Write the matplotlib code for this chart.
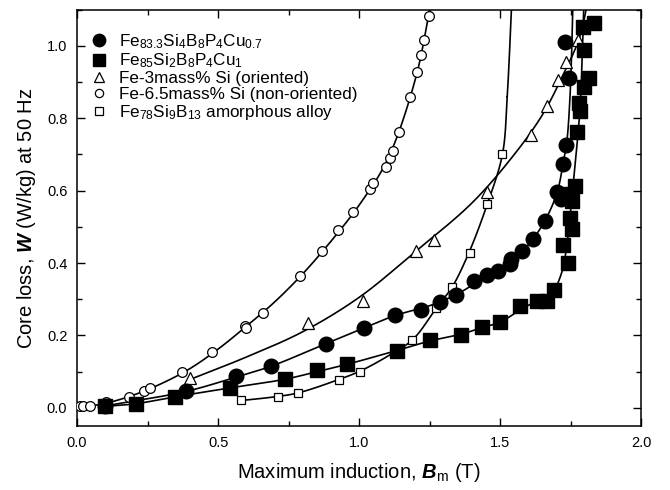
import numpy as np
import matplotlib
matplotlib.use("Agg")
import matplotlib.pyplot as plt
from matplotlib.ticker import MultipleLocator

plt.rcParams['font.family'] = ['Liberation Sans', 'DejaVu Sans']
plt.rcParams['mathtext.fontset'] = 'custom'
plt.rcParams['mathtext.rm'] = 'Liberation Sans'
plt.rcParams['mathtext.it'] = 'Liberation Sans:italic'
plt.rcParams['mathtext.bf'] = 'Liberation Sans:bold'
plt.rcParams['mathtext.bfit'] = 'Liberation Sans:italic:bold'

# ---------------- data (B in T, W in W/kg) ----------------
# Fe83.3Si4B8P4Cu0.7 (filled circles)
b_fe833 = [0.10, 0.386, 0.565, 0.689, 0.882, 1.017, 1.128, 1.221, 1.285, 1.343, 1.407,
           1.452, 1.494, 1.534, 1.54, 1.579, 1.617, 1.658, 1.70, 1.717, 1.723, 1.733, 1.745, 1.729]
w_fe833 = [0.005, 0.045, 0.087, 0.114, 0.177, 0.219, 0.256, 0.27, 0.292, 0.311, 0.349,
           0.366, 0.379, 0.397, 0.41, 0.433, 0.467, 0.516, 0.596, 0.578, 0.673, 0.727, 0.911, 1.01]
# Fe85Si2B8P4Cu1 (filled squares)
b_fe85 = [0.10, 0.208, 0.346, 0.544, 0.739, 0.851, 0.957, 1.133, 1.253, 1.361, 1.437, 1.499,
          1.57, 1.629, 1.667, 1.69, 1.741, 1.723, 1.753, 1.747, 1.753, 1.741, 1.765, 1.774,
          1.783, 1.78, 1.797, 1.815, 1.797, 1.795, 1.832]
w_fe85 = [0.004, 0.011, 0.03, 0.055, 0.079, 0.103, 0.121, 0.158, 0.186, 0.202, 0.224, 0.236,
          0.281, 0.296, 0.294, 0.326, 0.40, 0.451, 0.493, 0.525, 0.571, 0.59, 0.613, 0.761,
          0.821, 0.842, 0.886, 0.911, 0.99, 1.052, 1.064]
# Fe-3mass% Si (oriented) (open triangles)
b_fe3si = [0.402, 0.819, 1.014, 1.20, 1.265, 1.452, 1.608, 1.665, 1.706, 1.733, 1.777]
w_fe3si = [0.082, 0.235, 0.294, 0.433, 0.463, 0.595, 0.753, 0.835, 0.906, 0.955, 1.017]
# Fe-6.5mass% Si (non-oriented) (open circles)
b_fe65si = [0.01, 0.02, 0.045, 0.104, 0.183, 0.236, 0.258, 0.372, 0.477, 0.597, 0.60, 0.66,
            0.79, 0.868, 0.925, 0.98, 1.04, 1.05, 1.095, 1.11, 1.12, 1.141, 1.18, 1.206,
            1.219, 1.23, 1.247]
w_fe65si = [0.004, 0.004, 0.006, 0.017, 0.031, 0.045, 0.055, 0.10, 0.153, 0.225, 0.22, 0.262,
            0.363, 0.432, 0.49, 0.54, 0.605, 0.62, 0.665, 0.69, 0.71, 0.763, 0.86, 0.927,
            0.975, 1.017, 1.084]
# Fe78Si9B13 amorphous alloy (open squares)
b_amor = [0.583, 0.713, 0.784, 0.928, 1.0025, 1.188, 1.274, 1.33, 1.392, 1.454, 1.508]
w_amor = [0.02, 0.031, 0.041, 0.078, 0.099, 0.187, 0.277, 0.334, 0.428, 0.562, 0.70]

# fitted curves
fit_b_fe833 = [0.10, 0.386, 0.565, 0.689, 0.882, 1.017, 1.128, 1.25, 1.343, 1.41, 1.494,
               1.579, 1.617, 1.658, 1.70, 1.723, 1.737, 1.747, 1.753, 1.758]
fit_w_fe833 = [0.005, 0.045, 0.085, 0.115, 0.177, 0.22, 0.255, 0.282, 0.312, 0.343, 0.38,
               0.433, 0.467, 0.516, 0.59, 0.673, 0.74, 0.85, 0.97, 1.12]
fit_b_fe85 = [0.10, 0.208, 0.346, 0.544, 0.739, 0.851, 0.957, 1.133, 1.253, 1.361, 1.437,
              1.499, 1.57, 1.617, 1.66, 1.688, 1.718, 1.735, 1.748, 1.759, 1.771, 1.783,
              1.79, 1.797]
fit_w_fe85 = [0.004, 0.011, 0.03, 0.055, 0.079, 0.10, 0.12, 0.158, 0.185, 0.203, 0.222,
              0.236, 0.27, 0.29, 0.305, 0.322, 0.373, 0.44, 0.53, 0.62, 0.715, 0.826,
              0.95, 1.12]
fit_b_fe3si = [0.40, 0.60, 0.80, 1.00, 1.20, 1.40, 1.55, 1.65, 1.72, 1.78, 1.81]
fit_w_fe3si = [0.078, 0.14, 0.21, 0.305, 0.432, 0.566, 0.70, 0.81, 0.915, 1.02, 1.12]
fit_b_fe65si = [0.0, 0.1, 0.2, 0.3, 0.4, 0.5, 0.6, 0.7, 0.8, 0.9, 1.0, 1.1, 1.2, 1.255]
fit_w_fe65si = [0.0, 0.012, 0.035, 0.067, 0.108, 0.162, 0.225, 0.292, 0.37, 0.46, 0.56,
                0.685, 0.91, 1.12]
fit_b_amor = [0.583, 0.70, 0.784, 0.928, 1.0, 1.085, 1.188, 1.274, 1.33, 1.39, 1.454,
              1.508, 1.525, 1.541]
fit_w_amor = [0.02, 0.03, 0.041, 0.078, 0.10, 0.135, 0.187, 0.276, 0.334, 0.43, 0.562,
              0.70, 0.86, 1.12]

labels = [r'Fe$_{83.3}$Si$_{4}$B$_{8}$P$_{4}$Cu$_{0.7}$',
          r'Fe$_{85}$Si$_{2}$B$_{8}$P$_{4}$Cu$_{1}$',
          'Fe-3mass% Si (oriented)',
          'Fe-6.5mass% Si (non-oriented)',
          r'Fe$_{78}$Si$_{9}$B$_{13}$ amorphous alloy']


def catmull_rom(x, y, n=40, alpha=0.5, sx=2.0, sy=1.15):
    P = np.column_stack([np.asarray(x) / sx, np.asarray(y) / sy])
    P = np.vstack([2 * P[0] - P[1], P, 2 * P[-1] - P[-2]])
    out = []
    for i in range(1, len(P) - 2):
        p0, p1, p2, p3 = P[i - 1], P[i], P[i + 1], P[i + 2]
        t0 = 0.0
        t1 = t0 + np.linalg.norm(p1 - p0) ** alpha
        t2 = t1 + np.linalg.norm(p2 - p1) ** alpha
        t3 = t2 + np.linalg.norm(p3 - p2) ** alpha
        t = np.linspace(t1, t2, n)[:, None]
        A1 = (t1 - t) / (t1 - t0) * p0 + (t - t0) / (t1 - t0) * p1
        A2 = (t2 - t) / (t2 - t1) * p1 + (t - t1) / (t2 - t1) * p2
        A3 = (t3 - t) / (t3 - t2) * p2 + (t - t2) / (t3 - t2) * p3
        B1 = (t2 - t) / (t2 - t0) * A1 + (t - t0) / (t2 - t0) * A2
        B2 = (t3 - t) / (t3 - t1) * A2 + (t - t1) / (t3 - t1) * A3
        C = (t2 - t) / (t2 - t1) * B1 + (t - t1) / (t2 - t1) * B2
        out.append(C)
    C = np.vstack(out)
    return C[:, 0] * sx, C[:, 1] * sy


fig = plt.figure(figsize=(6.7, 4.9), dpi=100)
ax = fig.add_axes([0.115, 0.131, 0.842, 0.849])

fits = [(fit_b_fe833, fit_w_fe833), (fit_b_fe85, fit_w_fe85), (fit_b_fe3si, fit_w_fe3si),
        (fit_b_fe65si, fit_w_fe65si), (fit_b_amor, fit_w_amor)]
for fb, fw in fits:
    cx, cy = catmull_rom(fb, fw)
    ax.plot(cx, cy, color='black', lw=1.2, zorder=2)

ax.plot(b_fe833, w_fe833, ls='none', marker='o', ms=10.5, mfc='black', mec='black',
        label=labels[0], zorder=4)
ax.plot(b_fe85, w_fe85, ls='none', marker='s', ms=9.5, mfc='black', mec='black',
        label=labels[1], zorder=4)
ax.plot(b_fe3si, w_fe3si, ls='none', marker='^', ms=8, mfc='white', mec='black', mew=0.9,
        label=labels[2], zorder=3)
ax.plot(b_fe65si, w_fe65si, ls='none', marker='o', ms=7, mfc='white', mec='black', mew=0.9,
        label=labels[3], zorder=3)
ax.plot(b_amor, w_amor, ls='none', marker='s', ms=6, mfc='white', mec='black', mew=0.9,
        label=labels[4], zorder=3)

ax.set_xlim(0, 2.0)
ax.set_ylim(-0.05, 1.1)
ax.xaxis.set_major_locator(MultipleLocator(0.5))
ax.xaxis.set_minor_locator(MultipleLocator(0.25))
ax.yaxis.set_major_locator(MultipleLocator(0.2))
ax.yaxis.set_minor_locator(MultipleLocator(0.1))
ax.xaxis.set_major_formatter(matplotlib.ticker.FormatStrFormatter('%.1f'))
ax.yaxis.set_major_formatter(matplotlib.ticker.FormatStrFormatter('%.1f'))
ax.tick_params(which='both', direction='in', top=True, right=True, labelsize=10.5, width=1.0)
ax.tick_params(which='major', length=6, pad=7)
ax.tick_params(which='minor', length=3.5)
for s in ax.spines.values():
    s.set_linewidth(1.1)

ax.set_xlabel(r'Maximum induction, $\mathbfit{B}_{\mathrm{m}}$ (T)', fontsize=14.5, labelpad=8)
ax.set_ylabel(r'Core loss, $\mathbfit{W}$ (W/kg) at 50 Hz', fontsize=14.5, labelpad=6)

leg = ax.legend(loc='upper left', frameon=False, fontsize=12.3, markerscale=0.85,
                handlelength=1.2, handletextpad=0.55, labelspacing=0.05,
                borderaxespad=0.3, bbox_to_anchor=(0.0, 0.975))

fig.savefig('out.png', dpi=100)
